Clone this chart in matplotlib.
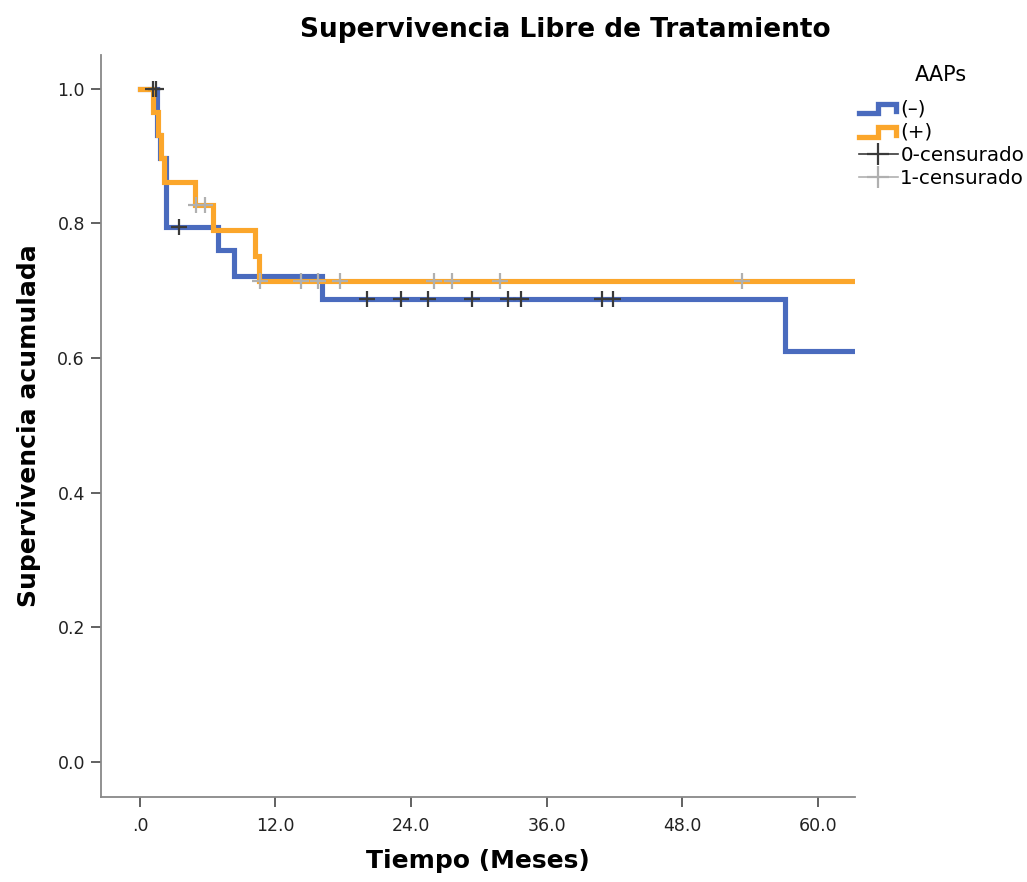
import numpy as np
import matplotlib
matplotlib.use('Agg')
import matplotlib.pyplot as plt
from matplotlib.lines import Line2D
from matplotlib.legend_handler import HandlerBase

# Kaplan-Meier steps (time in months, survival)
neg_times = [0.0, 1.5, 1.8, 2.3, 6.9, 8.3, 16.1, 57.1, 63.3]
neg_surv = [1.0, 0.931, 0.897, 0.794, 0.760, 0.722, 0.687, 0.611, 0.611]
pos_times = [0.0, 1.2, 1.6, 1.9, 2.1, 4.9, 6.5, 10.2, 10.5, 63.3]
pos_surv = [1.0, 0.966, 0.931, 0.897, 0.862, 0.828, 0.790, 0.752, 0.715, 0.715]

# censored cases
neg_cens = [1.15, 1.45, 3.5, 20.1, 23.1, 25.5, 29.4, 32.6, 33.7, 40.9, 41.9]
pos_cens = [5.0, 5.8, 10.6, 14.3, 15.8, 17.7, 26.0, 27.6, 31.9, 53.3]

group_labels = ['(\u2013)', '(+)']
censor_labels = ['0-censurado', '1-censurado']
x_ticks = [0, 12, 24, 36, 48, 60]
x_tick_labels = ['.0', '12.0', '24.0', '36.0', '48.0', '60.0']
y_ticks = [0.0, 0.2, 0.4, 0.6, 0.8, 1.0]

blue = '#4a6bbe'
orange = '#fba62b'
dark = '#3a3a3a'
light = '#b0b0b0'


def step_value(times, surv, t):
    idx = np.searchsorted(times, t, side='right') - 1
    return np.array(surv)[idx]


class StepHandler(HandlerBase):
    def create_artists(self, legend, orig_handle, xdescent, ydescent,
                       width, height, fontsize, trans):
        x = np.array([0, 0.5, 0.5, 0.95, 0.95]) * width - xdescent
        y = np.array([0.05, 0.05, 0.75, 0.75, 0.2]) * height - ydescent
        line = Line2D(x, y, color=orig_handle.get_color(), lw=3.8,
                      solid_joinstyle='miter')
        line.set_transform(trans)
        return [line]


fig = plt.figure(figsize=(10.27, 8.82), dpi=100)
ax = fig.add_axes([0.0983, 0.0964, 0.7342, 0.8412])

ax.step(neg_times, neg_surv, where='post', color=blue, lw=3.7,
        solid_joinstyle='miter', zorder=2)
ax.step(pos_times, pos_surv, where='post', color=orange, lw=3.7,
        solid_joinstyle='miter', zorder=3)

ax.plot(neg_cens, step_value(neg_times, neg_surv, neg_cens), ls='none',
        marker='+', ms=11, mew=1.6, color=dark, zorder=4)
ax.plot(pos_cens, step_value(pos_times, pos_surv, pos_cens), ls='none',
        marker='+', ms=11, mew=1.6, color=light, zorder=4)

ax.set_xlim(-3.45, 63.3)
ax.set_ylim(-0.052, 1.05)
ax.set_xticks(x_ticks)
ax.set_xticklabels(x_tick_labels)
ax.set_yticks(y_ticks)
ax.set_yticklabels(['%.1f' % v for v in y_ticks])
ax.tick_params(direction='out', length=7.5, width=1.3, color='#555555',
               labelsize=12.5, labelcolor='#222222', pad=4)
ax.tick_params(axis='x', pad=7)

for side in ['top', 'right']:
    ax.spines[side].set_visible(False)
for side in ['left', 'bottom']:
    ax.spines[side].set_color('#888888')
    ax.spines[side].set_linewidth(1.3)

ax.set_xlabel('Tiempo (Meses)', fontsize=18, fontweight='bold', labelpad=10)
ax.set_ylabel('Supervivencia acumulada', fontsize=18, fontweight='bold',
              labelpad=12)
fig.text(0.55, 0.966, 'Supervivencia Libre de Tratamiento', ha='center',
         va='center', fontsize=19, fontweight='bold')

handles = [Line2D([], [], color=blue), Line2D([], [], color=orange),
           Line2D([], [], color=dark, lw=1.2, marker='+', ms=16, mew=1.6),
           Line2D([], [], color=light, lw=1.2, marker='+', ms=16, mew=1.6)]
leg = fig.legend(handles, group_labels + censor_labels, title='AAPs',
                 loc='upper left', bbox_to_anchor=(0.836, 0.926),
                 frameon=False, fontsize=14.3, title_fontsize=15,
                 handlelength=2.0, handletextpad=0.1, labelspacing=0.22,
                 borderaxespad=0, borderpad=0,
                 handler_map={handles[0]: StepHandler(),
                              handles[1]: StepHandler()})
leg._legend_box.align = 'center'
leg._legend_box.sep = 10

fig.savefig('out.png', dpi=100)
